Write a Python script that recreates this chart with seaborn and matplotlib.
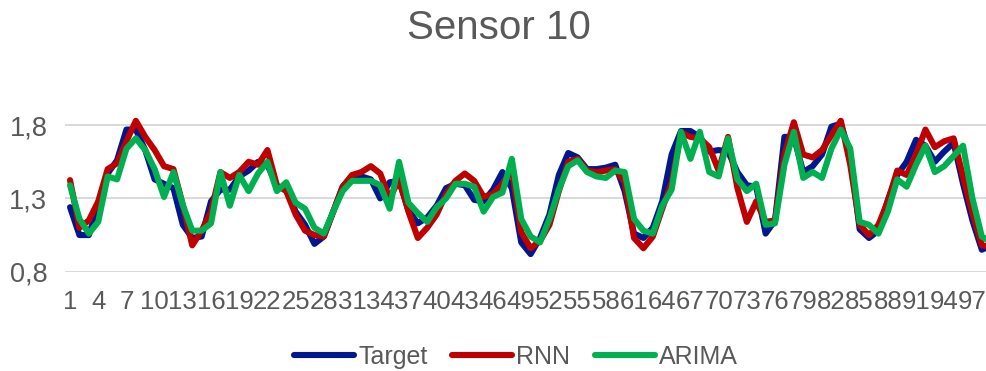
import numpy as np
import pandas as pd
import matplotlib
matplotlib.use("Agg")
import matplotlib.pyplot as plt
import seaborn as sns

# Sensor 10 readings: measured target and two forecasting models
target = [1.24, 1.05, 1.05, 1.25, 1.47, 1.56, 1.77, 1.77, 1.63, 1.43,
          1.40, 1.37, 1.12, 1.03, 1.04, 1.28, 1.36, 1.36, 1.45, 1.49,
          1.55, 1.53, 1.38, 1.37, 1.21, 1.12, 0.99, 1.04, 1.21, 1.38,
          1.45, 1.45, 1.43, 1.30, 1.41, 1.42, 1.22, 1.13, 1.17, 1.25,
          1.37, 1.40, 1.39, 1.29, 1.28, 1.36, 1.48, 1.37, 1.00, 0.92,
          1.03, 1.19, 1.46, 1.61, 1.58, 1.50, 1.50, 1.51, 1.53, 1.35,
          1.06, 1.03, 1.10, 1.28, 1.60, 1.76, 1.76, 1.72, 1.62, 1.63,
          1.62, 1.48, 1.39, 1.38, 1.06, 1.15, 1.72, 1.72, 1.48, 1.52,
          1.60, 1.79, 1.81, 1.60, 1.09, 1.03, 1.08, 1.29, 1.46, 1.55,
          1.70, 1.66, 1.55, 1.62, 1.68, 1.40, 1.15, 0.95, 0.98]
rnn = [1.425, 1.10, 1.15, 1.28, 1.50, 1.54, 1.69, 1.83, 1.72, 1.63,
       1.52, 1.50, 1.255, 0.98, 1.08, 1.21, 1.48, 1.44, 1.48, 1.55,
       1.53, 1.63, 1.39, 1.35, 1.19, 1.08, 1.05, 1.04, 1.21, 1.38,
       1.46, 1.48, 1.52, 1.47, 1.30, 1.43, 1.21, 1.03, 1.10, 1.19,
       1.33, 1.42, 1.47, 1.42, 1.31, 1.33, 1.40, 1.50, 1.07, 0.96,
       1.01, 1.12, 1.35, 1.55, 1.57, 1.49, 1.48, 1.49, 1.50, 1.41,
       1.03, 0.96, 1.04, 1.23, 1.41, 1.75, 1.72, 1.71, 1.65, 1.49,
       1.72, 1.37, 1.14, 1.28, 1.14, 1.15, 1.60, 1.82, 1.60, 1.58,
       1.63, 1.73, 1.83, 1.53, 1.12, 1.05, 1.12, 1.28, 1.49, 1.46,
       1.60, 1.77, 1.65, 1.69, 1.71, 1.45, 1.20, 0.98, 0.97]
arima = [1.39, 1.16, 1.06, 1.14, 1.45, 1.43, 1.64, 1.71, 1.63, 1.50,
         1.31, 1.48, 1.255, 1.08, 1.08, 1.13, 1.48, 1.25, 1.46, 1.35,
         1.47, 1.55, 1.35, 1.41, 1.27, 1.23, 1.10, 1.06, 1.21, 1.35,
         1.42, 1.42, 1.42, 1.39, 1.23, 1.55, 1.27, 1.20, 1.14, 1.24,
         1.30, 1.40, 1.40, 1.38, 1.21, 1.31, 1.34, 1.57, 1.16, 1.04,
         1.00, 1.16, 1.36, 1.52, 1.56, 1.48, 1.45, 1.44, 1.49, 1.48,
         1.16, 1.08, 1.06, 1.25, 1.36, 1.755, 1.57, 1.755, 1.48, 1.45,
         1.71, 1.43, 1.35, 1.40, 1.12, 1.13, 1.53, 1.755, 1.44, 1.48,
         1.44, 1.64, 1.77, 1.64, 1.14, 1.12, 1.06, 1.21, 1.43, 1.38,
         1.53, 1.66, 1.48, 1.52, 1.59, 1.66, 1.30, 1.04, 1.00]

series_names = ["Target", "RNN", "ARIMA"]
series_colors = ["#00188f", "#c00000", "#00b050"]
y_ticks = [0.8, 1.3, 1.8]
y_tick_labels = ["0,8", "1,3", "1,8"]

steps = np.arange(1, len(target) + 1)
df = pd.DataFrame({
    "step": np.tile(steps, 3),
    "value": np.concatenate([target, rnn, arima]),
    "series": np.repeat(series_names, len(steps)),
})

sns.set_theme(style="white")
plt.rcParams["font.family"] = ["Liberation Sans", "DejaVu Sans"]
text_color = "#595959"

fig = plt.figure(figsize=(9.87, 3.71), dpi=100)
ax = fig.add_axes([0.0662, 0.2677, 0.9338, 0.4897])

sns.lineplot(data=df, x="step", y="value", hue="series",
             hue_order=series_names, palette=series_colors,
             linewidth=4.4, ax=ax, legend=False, zorder=3)
for ln in ax.lines:
    ln.set_solid_joinstyle("round")
    ln.set_solid_capstyle("round")

ax.set_xlim(0.5, 98.55)
ax.set_ylim(0.8, 2.04)
ax.set_yticks(y_ticks)
ax.set_yticklabels(y_tick_labels)
xt = steps[::3]
ax.set_xticks(xt)
ax.set_xticklabels([str(v) for v in xt])
ax.grid(axis="y", color="#d9d9d9", linewidth=1.4)
ax.grid(axis="x", visible=False)
for s in ax.spines.values():
    s.set_visible(False)
ax.tick_params(axis="both", length=0, colors=text_color)
ax.tick_params(axis="x", pad=13, labelsize=18.5)
ax.tick_params(axis="y", pad=13, labelsize=19.5)
ax.set_xlabel("")
ax.set_ylabel("")

fig.text(499 / 987, 1 - 28 / 371, "Sensor 10", ha="center", va="center",
         fontsize=29, color=text_color)

handles = [plt.Line2D([], [], color=c, linewidth=4.4, solid_capstyle="round")
           for c in series_colors]
leg = fig.legend(handles, series_names, loc="center",
                 bbox_to_anchor=(516 / 987, 1 - 357 / 371), ncol=3,
                 frameon=False, fontsize=18, handlelength=2.4,
                 handletextpad=0.15, columnspacing=1.0, borderaxespad=0)
for t in leg.get_texts():
    t.set_color(text_color)

fig.savefig("out.png", dpi=100)
